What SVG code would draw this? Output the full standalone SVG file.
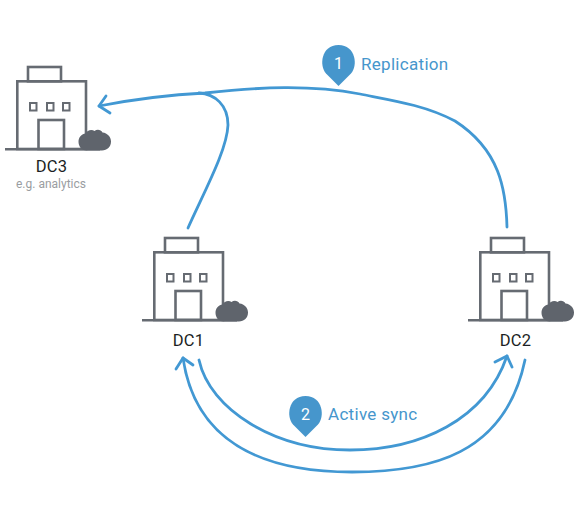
<svg xmlns="http://www.w3.org/2000/svg" width="580" height="520" viewBox="0 0 580 520">
<style>
.b{fill:none;stroke:#666b72;stroke-width:2.6}
.w{fill:none;stroke:#666b72;stroke-width:2}
.c{fill:#5f646c}
.l{font-family:Roboto,"Liberation Sans",sans-serif;font-size:16.500px;letter-spacing:.2px;fill:#1c1f24;text-anchor:middle}
.s{font-family:Roboto,"Liberation Sans",sans-serif;font-size:12px;fill:#9a9da1;text-anchor:middle}
.t{font-family:Roboto,"Liberation Sans",sans-serif;font-size:17px;letter-spacing:.3px;fill:#4696cc}
.n{font-family:Roboto,"Liberation Sans",sans-serif;font-size:16px;fill:#fff;text-anchor:middle}
.p{fill:#4696cc}
.e{fill:none;stroke:#4298d3;stroke-width:2.800;stroke-linecap:round;stroke-linejoin:round}
</style>
<defs>
<g id="bld">
<rect class="b" x="17.3" y="81.3" width="68.7" height="67.7"/>
<rect class="b" x="28" y="67" width="33" height="14.3"/>
<rect class="w" x="30" y="103" width="6.5" height="7.5"/>
<rect class="w" x="47" y="103" width="6.5" height="7.5"/>
<rect class="w" x="63" y="103" width="6.5" height="7.5"/>
<rect class="b" x="38.5" y="120" width="25.5" height="29"/>
<path class="b" d="M5 149.300H100"/>
<path class="c" d="M87 150.500C81 150.500 78.500 146 78.500 141.500C78.500 137 82 134 85.500 133.500C87 130 92 129 94.500 131C97 129 101 129.500 102.500 132.500C107.500 133 111 137 111 141.500C111 147 107 150.500 102 150.500Z"/>
</g>
</defs>
<g id="connectors">
<path class="e" d="M507 227C506 190 500 150 455 121C425 105 390 100 360 94C310 84.500 260 87 205 93C165 95 130 100 99 106"/>
<path class="e" d="M188 228C205 190 227 150 228 125C228 105 215 94 199 93"/>
<path class="e" d="M106 96L99 106L110 113"/>
<path class="e" d="M199 360C210 410 275 450 350 450C420 450 485 420 507 356"/>
<path class="e" d="M525 360C505 455 430 472 352 472C260 472 195 440 183 358"/>
<path class="e" d="M176 369L183 358L193 365"/>
<path class="e" d="M495 362L507 356L512 367"/>
</g>
<g id="dc3"><use href="#bld"/><text class="l" x="51.500" y="172">DC3</text><text class="s" x="51" y="187.500">e.g. analytics</text></g>
<g id="dc1"><use href="#bld" x="137" y="171"/><text class="l" x="188.500" y="345.500">DC1</text></g>
<g id="dc2"><use href="#bld" x="463" y="171"/><text class="l" x="515.500" y="345.500">DC2</text></g>
<g id="badge1"><path class="p" d="M338.500 86L326 73.500C319 66 321 45 338.500 45C356 45 358 66 351 73.500Z"/><text class="n" x="338.500" y="69">1</text><text class="t" x="361" y="69.500">Replication</text></g>
<g id="badge2"><path class="p" d="M305.500 437L293 424.500C286 417 288 396 305.500 396C323 396 325 417 318 424.500Z"/><text class="n" x="305.500" y="420">2</text><text class="t" x="328" y="420">Active sync</text></g>
</svg>
